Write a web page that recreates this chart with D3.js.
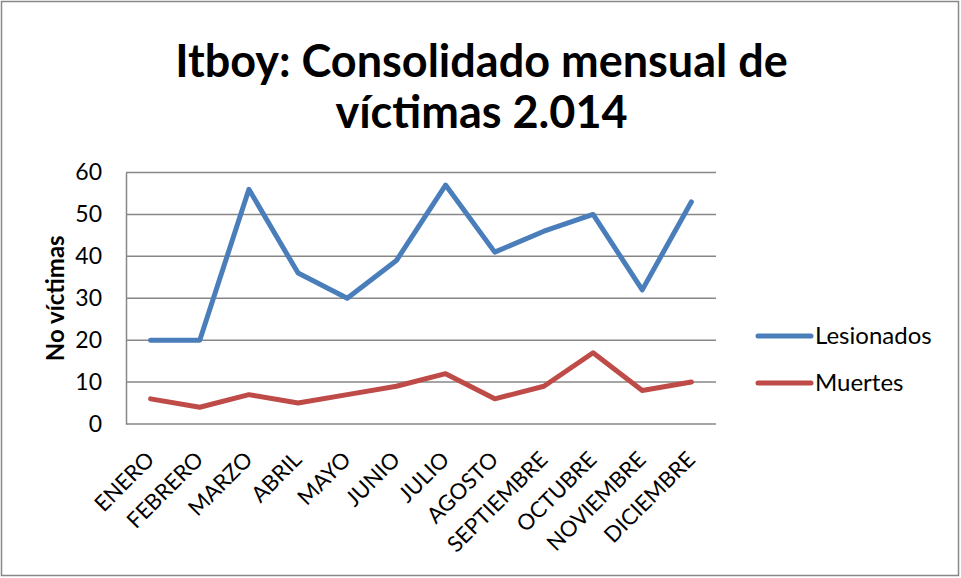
<!DOCTYPE html>
<html>
<head>
<meta charset="utf-8">
<script src="https://cdn.jsdelivr.net/npm/d3@7"></script>
<style>
  html, body { margin: 0; padding: 0; background: #fff; }
  svg { display: block; }
  text { font-family: Lato, "Open Sans", sans-serif; fill: #000; }
</style>
</head>
<body>
<svg id="chart" width="961" height="578"></svg>
<script>
const months = ["ENERO", "FEBRERO", "MARZO", "ABRIL", "MAYO", "JUNIO", "JULIO",
                "AGOSTO", "SEPTIEMBRE", "OCTUBRE", "NOVIEMBRE", "DICIEMBRE"];
const lesionados = [20, 20, 56, 36, 30, 39, 57, 41, 46, 50, 32, 53];
const muertes = [6, 4, 7, 5, 7, 9, 12, 6, 9, 17, 8, 10];
const yTicks = [0, 10, 20, 30, 40, 50, 60];
const seriesNames = ["Lesionados", "Muertes"];
const titleLines = ["Itboy: Consolidado mensual de", "víctimas 2.014"];
const yLabel = "No víctimas";

const colors = { Lesionados: "#4A7EBB", Muertes: "#BE4B48" };
const series = [
  { name: seriesNames[0], values: lesionados },
  { name: seriesNames[1], values: muertes }
];

const svg = d3.select("#chart");
const W = 961, H = 578;
const plot = { left: 126, right: 716, top: 172.5, bottom: 424 };

// chart frame
svg.append("rect")
  .attr("x", 1.5).attr("y", 1.5)
  .attr("width", W - 4).attr("height", H - 4)
  .attr("fill", "#fff").attr("stroke", "#888").attr("stroke-width", 1.5);

const x = d3.scaleBand().domain(months).range([plot.left, plot.right]);
const y = d3.scaleLinear().domain([0, 60]).range([plot.bottom, plot.top]);

// horizontal gridlines
svg.append("g").selectAll("line").data(yTicks).join("line")
  .attr("x1", plot.left).attr("x2", plot.right)
  .attr("y1", d => y(d)).attr("y2", d => y(d))
  .attr("stroke", "#878787").attr("stroke-width", 1.5);

// y axis
const yAxis = svg.append("g")
  .attr("transform", `translate(${plot.left},0)`)
  .call(d3.axisLeft(y).tickValues(yTicks).tickSize(0).tickPadding(24));
yAxis.select(".domain").attr("stroke", "#878787").attr("stroke-width", 1.5);
yAxis.selectAll("text")
  .style("font-size", "23px").style("font-family", "Lato, sans-serif")
  .attr("fill", "#000");

// x axis labels, rotated 45 degrees
const xAxis = svg.append("g")
  .attr("transform", `translate(0,${plot.bottom})`)
  .call(d3.axisBottom(x).tickSize(0).tickFormat(d => d));
xAxis.select(".domain").remove();
xAxis.selectAll(".tick text")
  .style("font-size", "22px").style("font-family", "Lato, sans-serif")
  .attr("fill", "#000")
  .attr("text-anchor", "end")
  .attr("y", 0).attr("dy", 0)
  .attr("transform", "translate(5,37) rotate(-45)");

// y axis title
svg.append("text")
  .attr("transform", `translate(64,${(plot.top + plot.bottom) / 2}) rotate(-90)`)
  .attr("text-anchor", "middle")
  .style("font-size", "24px").style("font-weight", "bold")
  .text(yLabel);

// chart title
svg.append("g").selectAll("text").data(titleLines).join("text")
  .attr("x", W / 2 + 1)
  .attr("y", (d, i) => 77 + i * 51)
  .attr("text-anchor", "middle")
  .style("font-size", "45px").style("font-weight", "bold")
  .text(d => d);

// series lines
const line = d3.line()
  .x((d, i) => x(months[i]) + x.bandwidth() / 2)
  .y(d => y(d));

svg.append("g").selectAll("path").data(series).join("path")
  .attr("d", d => line(d.values))
  .attr("fill", "none")
  .attr("stroke", d => colors[d.name])
  .attr("stroke-width", 5)
  .attr("stroke-linejoin", "round")
  .attr("stroke-linecap", "round");

// legend
const legend = svg.append("g").selectAll("g").data(series).join("g")
  .attr("transform", (d, i) => `translate(758,${336 + i * 47})`);
legend.append("line")
  .attr("x1", 0).attr("x2", 53)
  .attr("stroke", d => colors[d.name])
  .attr("stroke-width", 5).attr("stroke-linecap", "round");
legend.append("text")
  .attr("x", 57).attr("dy", "0.35em")
  .style("font-size", "24px")
  .text(d => d.name);
</script>
</body>
</html>
